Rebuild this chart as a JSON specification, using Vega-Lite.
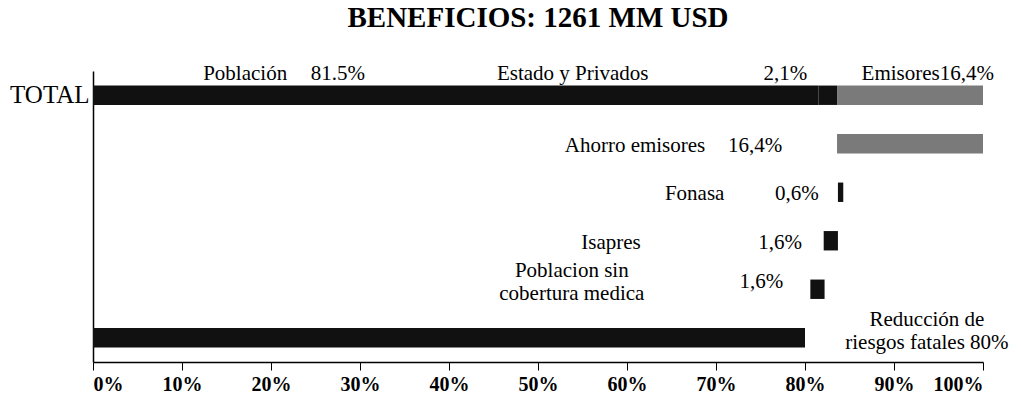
{
  "$schema": "https://vega.github.io/schema/vega-lite/v6.json",
  "width": 890,
  "height": 291,
  "autosize": {"type": "none"},
  "padding": {"left": 93, "top": 71, "right": 38, "bottom": 43},
  "background": "white",
  "title": {"text": "BENEFICIOS: 1261 MM USD", "font": "Liberation Serif", "fontSize": 29, "fontWeight": "bold", "color": "black", "anchor": "middle", "dx": 0, "offset": 30},
  "config": {"view": {"stroke": null}, "font": "Liberation Serif"},
  "datasets": {
    "bars": [
      {"row": "TOTAL", "start": 0, "end": 0.815, "grp": "negro"},
      {"row": "TOTAL", "start": 0.815, "end": 0.836, "grp": "negro"},
      {"row": "TOTAL", "start": 0.836, "end": 1.0, "grp": "gris"},
      {"row": "Ahorro emisores", "start": 0.836, "end": 1.0, "grp": "gris"},
      {"row": "Fonasa", "start": 0.837, "end": 0.843, "grp": "negro"},
      {"row": "Isapres", "start": 0.821, "end": 0.837, "grp": "negro"},
      {"row": "Poblacion sin cobertura medica", "start": 0.806, "end": 0.822, "grp": "negro"},
      {"row": "Reducción de riesgos fatales", "start": 0, "end": 0.8, "grp": "negro"}
    ],
    "labels": [
      {"row": "TOTAL", "pos": 0.171, "label": "Población", "kind": "above"},
      {"row": "TOTAL", "pos": 0.275, "label": "81.5%", "kind": "above"},
      {"row": "TOTAL", "pos": 0.539, "label": "Estado y Privados", "kind": "above"},
      {"row": "TOTAL", "pos": 0.778, "label": "2,1%", "kind": "above"},
      {"row": "TOTAL", "pos": 0.938, "label": "Emisores16,4%", "kind": "above"},
      {"row": "Ahorro emisores", "pos": 0.609, "label": "Ahorro emisores", "kind": "mid"},
      {"row": "Ahorro emisores", "pos": 0.744, "label": "16,4%", "kind": "mid"},
      {"row": "Fonasa", "pos": 0.676, "label": "Fonasa", "kind": "mid"},
      {"row": "Fonasa", "pos": 0.791, "label": "0,6%", "kind": "mid"},
      {"row": "Isapres", "pos": 0.582, "label": "Isapres", "kind": "mid"},
      {"row": "Isapres", "pos": 0.772, "label": "1,6%", "kind": "mid"},
      {"row": "Poblacion sin cobertura medica", "pos": 0.538, "label": "Poblacion sin\ncobertura medica", "kind": "two"},
      {"row": "Poblacion sin cobertura medica", "pos": 0.751, "label": "1,6%", "kind": "midup"},
      {"row": "Reducción de riesgos fatales", "pos": 0.937, "label": "Reducción de\nriesgos fatales 80%", "kind": "two"}
    ]
  },
  "layer": [
    {
      "data": {"name": "bars"},
      "mark": {"type": "bar"},
      "encoding": {
        "y": {
          "field": "row", "type": "nominal",
          "scale": {"domain": ["TOTAL", "Ahorro emisores", "Fonasa", "Isapres", "Poblacion sin cobertura medica", "Reducción de riesgos fatales"], "paddingInner": 0.6, "paddingOuter": 0.3},
          "axis": {"title": null, "labelExpr": "datum.value == 'TOTAL' ? 'TOTAL' : ''", "ticks": false, "domainColor": "black", "domainWidth": 1.5, "labelFont": "Liberation Serif", "labelFontSize": 25, "labelColor": "black", "labelPadding": 4}
        },
        "x": {
          "field": "start", "type": "quantitative",
          "scale": {"domain": [0, 1], "nice": false},
          "axis": {"title": null, "values": [0, 0.1, 0.2, 0.3, 0.4, 0.5, 0.6, 0.7, 0.8, 0.9, 1], "format": ".0%", "grid": false, "tickSize": 8, "tickColor": "black", "domainColor": "black", "domainWidth": 1.5, "labelFont": "Liberation Serif", "labelFontSize": 20, "labelFontWeight": "bold", "labelColor": "black", "labelPadding": 4}
        },
        "x2": {"field": "end"},
        "color": {"field": "grp", "type": "nominal", "scale": {"domain": ["negro", "gris"], "range": ["#111111", "#7a7a7a"]}, "legend": null}
      }
    },
    {
      "data": {"name": "labels"},
      "transform": [{"filter": "datum.kind == 'above'"}],
      "mark": {"type": "text", "font": "Liberation Serif", "fontSize": 21, "color": "black", "align": "center", "baseline": "middle", "dy": -21},
      "encoding": {
        "y": {"field": "row", "type": "nominal"},
        "x": {"field": "pos", "type": "quantitative"},
        "text": {"field": "label"}
      }
    },
    {
      "data": {"name": "labels"},
      "transform": [{"filter": "datum.kind == 'mid'"}],
      "mark": {"type": "text", "font": "Liberation Serif", "fontSize": 21, "color": "black", "align": "center", "baseline": "middle", "dy": 2},
      "encoding": {
        "y": {"field": "row", "type": "nominal"},
        "x": {"field": "pos", "type": "quantitative"},
        "text": {"field": "label"}
      }
    },
    {
      "data": {"name": "labels"},
      "transform": [{"filter": "datum.kind == 'midup'"}],
      "mark": {"type": "text", "font": "Liberation Serif", "fontSize": 21, "color": "black", "align": "center", "baseline": "middle", "dy": -7},
      "encoding": {
        "y": {"field": "row", "type": "nominal"},
        "x": {"field": "pos", "type": "quantitative"},
        "text": {"field": "label"}
      }
    },
    {
      "data": {"name": "labels"},
      "transform": [{"filter": "datum.kind == 'two'"}],
      "mark": {"type": "text", "font": "Liberation Serif", "fontSize": 21, "color": "black", "align": "center", "baseline": "middle", "lineBreak": "\n", "lineHeight": 23, "dy": -18},
      "encoding": {
        "y": {"field": "row", "type": "nominal"},
        "x": {"field": "pos", "type": "quantitative"},
        "text": {"field": "label"}
      }
    }
  ]
}
